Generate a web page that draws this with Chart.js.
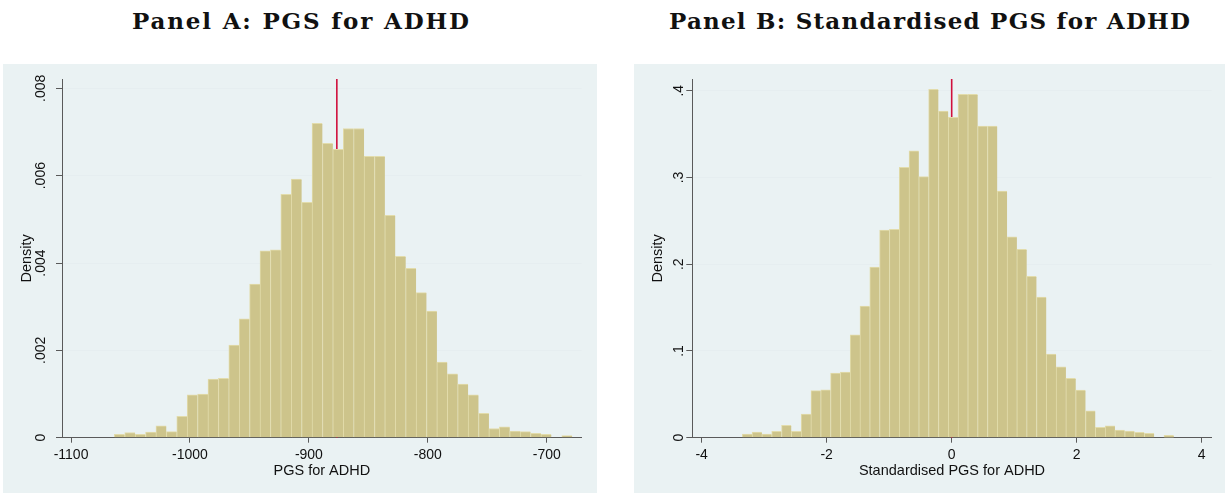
<!DOCTYPE html>
<html>
<head>
<meta charset="utf-8">
<script src="https://cdn.jsdelivr.net/npm/chart.js@4.4.1/dist/chart.umd.min.js"></script>
<style>
  html, body { margin: 0; padding: 0; background: #fff; }
  body { width: 1225px; height: 494px; position: relative; overflow: hidden; }
  .title { position: absolute; top: 7px; font-family: "DejaVu Serif", serif; font-weight: bold; font-size: 23px; white-space: nowrap; color: #111; }
  .panel { position: absolute; top: 64px; height: 429px; background: #eaf2f3; }
  #panelA { left: 3px; width: 594px; }
  #panelB { left: 634px; width: 591px; }
</style>
</head>
<body>
<div class="title" id="titleA">Panel A: PGS for ADHD</div>
<div class="title" id="titleB">Panel B: Standardised PGS for ADHD</div>
<div class="panel" id="panelA"><canvas id="chartA"></canvas></div>
<div class="panel" id="panelB"><canvas id="chartB"></canvas></div>
<script>
// Panel A: raw PGS, bin centres and densities
const binsA = [-1059.225, -1050.475, -1041.725, -1032.975, -1024.225, -1015.475, -1006.725, -997.975,
  -989.225, -980.475, -971.725, -962.975, -954.225, -945.475, -936.725, -927.975, -919.225, -910.475,
  -901.725, -892.975, -884.225, -875.475, -866.725, -857.975, -849.225, -840.475, -831.725, -822.975,
  -814.225, -805.475, -796.725, -787.975, -779.225, -770.475, -761.725, -752.975, -744.225, -735.475,
  -726.725, -717.975, -709.225, -700.475, -691.725, -682.975];
const densA = [0.00008, 0.00012, 0.00008, 0.00013, 0.00027, 0.00014, 0.00049, 0.00098, 0.00100, 0.00134,
  0.00136, 0.00212, 0.00272, 0.00352, 0.00428, 0.00430, 0.00557, 0.00592, 0.00539, 0.00720, 0.00674,
  0.00660, 0.00708, 0.00708, 0.00644, 0.00644, 0.00509, 0.00415, 0.00388, 0.00332, 0.00290, 0.00173,
  0.00146, 0.00123, 0.00098, 0.00056, 0.00021, 0.00025, 0.00015, 0.00014, 0.00010, 0.00008, 0, 0.00005];
const meanA = -876.5;
const xTicksA = [-1100, -1000, -900, -800, -700];
const yTicksA = [0, 0.002, 0.004, 0.006, 0.008];
const yLabelsA = ['0', '.002', '.004', '.006', '.008'];

// Panel B: standardised PGS
const binsB = [-3.2716, -3.1147, -2.9578, -2.8009, -2.6440, -2.4871, -2.3302, -2.1733, -2.0164, -1.8595,
  -1.7026, -1.5457, -1.3888, -1.2319, -1.0750, -0.9181, -0.7612, -0.6043, -0.4474, -0.2905, -0.1336,
  0.0233, 0.1802, 0.3371, 0.4940, 0.6509, 0.8078, 0.9647, 1.1216, 1.2785, 1.4354, 1.5923, 1.7492,
  1.9061, 2.0630, 2.2199, 2.3768, 2.5337, 2.6906, 2.8475, 3.0044, 3.1613, 3.3182, 3.4751];
const densB = [0.0042, 0.0065, 0.0042, 0.0073, 0.0142, 0.0073, 0.0273, 0.0542, 0.0553, 0.0745, 0.0757,
  0.1187, 0.1518, 0.1967, 0.2394, 0.2402, 0.3116, 0.3308, 0.3009, 0.4015, 0.3766, 0.3693, 0.3958, 0.3958,
  0.3593, 0.3593, 0.2843, 0.2317, 0.2171, 0.1860, 0.1622, 0.0964, 0.0818, 0.0684, 0.0549, 0.0311,
  0.0119, 0.0138, 0.0088, 0.0077, 0.0061, 0.0050, 0, 0.0027];
const meanB = 0;
const xTicksB = [-4, -2, 0, 2, 4];
const yTicksB = [0, 0.1, 0.2, 0.3, 0.4];
const yLabelsB = ['0', '.1', '.2', '.3', '.4'];

const BAR_FILL = '#cdc48b';
const BAR_EDGE = '#e2dcab';
const MEAN_COL = '#d0103c';
const AXIS_COL = '#5a5a5a';
const GRID_COL = '#e6eef0';
const FONT = 'Liberation Sans, Arial, sans-serif';

// stretch each title to the width it has in the figure
function fitTitle(id, left, width) {
  const el = document.getElementById(id);
  const ctx = document.createElement('canvas').getContext('2d');
  ctx.font = 'bold 23px "DejaVu Serif"';
  const w = ctx.measureText(el.textContent).width;
  const n = el.textContent.length - 1;
  el.style.letterSpacing = Math.max(0, (width - w) / n) + 'px';
  el.style.left = left + 'px';
}
fitTitle('titleA', 132, 337);
fitTitle('titleB', 669, 521);

function makeHist(id, bins, dens, mean, xMin, xMax, xTicks, yMax, yTicks, yLabels, xTitle, geom) {
  const ctx = document.getElementById(id);
  return new Chart(ctx, {
    type: 'bar',
    data: {
      datasets: [
        {
          type: 'line',
          data: [{ x: mean, y: 0 }, { x: mean, y: yMax }],
          borderColor: MEAN_COL, borderWidth: 1.6, pointRadius: 0, order: 2
        },
        {
          data: bins.map((b, i) => ({ x: b, y: dens[i] })),
          backgroundColor: BAR_FILL, borderColor: BAR_EDGE,
          borderWidth: { left: 1, top: 1, right: 0, bottom: 0 },
          barPercentage: 1, categoryPercentage: 1, order: 1
        }
      ]
    },
    options: {
      responsive: false, animation: false,
      layout: { padding: { top: 15, right: geom.right, left: 0, bottom: 0 } },
      plugins: { legend: { display: false }, tooltip: { enabled: false } },
      scales: {
        x: {
          type: 'linear', min: xMin, max: xMax, offset: false,
          afterBuildTicks: s => { s.ticks = xTicks.map(v => ({ value: v })); },
          afterFit: s => { s.height = 55.3; },
          ticks: { color: '#111', font: { family: FONT, size: 14 }, padding: 4, maxRotation: 0, autoSkip: false,
            callback: v => String(v) },
          grid: { offset: false, drawOnChartArea: false, drawTicks: true, tickLength: 5, tickColor: AXIS_COL, tickWidth: 1 },
          border: { color: AXIS_COL, width: 1 },
          title: { display: true, text: xTitle, color: '#111', font: { family: FONT, size: 14.5 }, padding: { top: 0, bottom: 13 } }
        },
        y: {
          type: 'linear', min: 0, max: yMax,
          afterBuildTicks: s => { s.ticks = yTicks.map(v => ({ value: v })); },
          afterFit: s => { s.width = geom.left; },
          ticks: {
            color: '#111', font: { family: FONT, size: 14 }, padding: 1.5,
            minRotation: 90, maxRotation: 90, crossAlign: 'center', autoSkip: false,
            callback: v => yLabels[yTicks.indexOf(v)]
          },
          grid: { color: GRID_COL, lineWidth: 1, drawTicks: true, tickLength: 6, tickColor: AXIS_COL },
          border: { color: AXIS_COL, width: 1 },
          title: { display: true, text: 'Density', color: '#111', font: { family: FONT, size: 14.5 }, padding: { top: 15, bottom: 0 } }
        }
      }
    }
  });
}

document.getElementById('chartA').width = 594;
document.getElementById('chartA').height = 429;
document.getElementById('chartB').width = 591;
document.getElementById('chartB').height = 429;

makeHist('chartA', binsA, densA, meanA, -1107.6, -670.6, xTicksA, 0.008213, yTicksA, yLabelsA,
  'PGS for ADHD', { left: 59, right: 15.3 });
makeHist('chartB', binsB, densB, meanB, -4.15, 4.16, xTicksB, 0.4135, yTicksB, yLabelsB,
  'Standardised PGS for ADHD', { left: 58.3, right: 13.3 });
</script>
</body>
</html>
